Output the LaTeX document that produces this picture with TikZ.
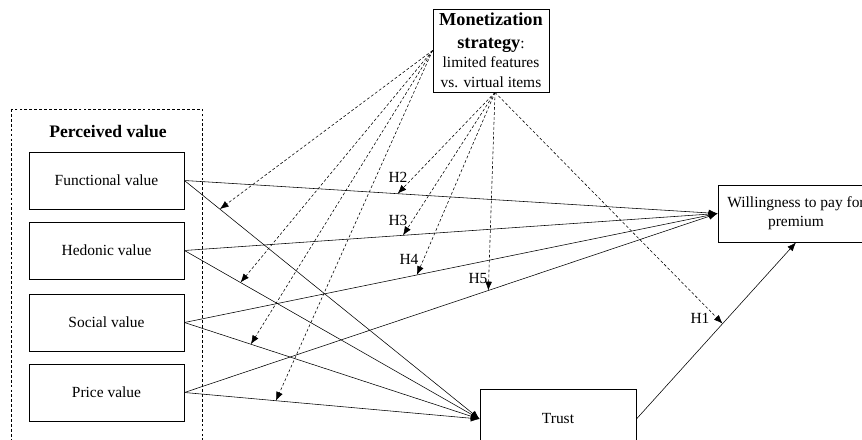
\documentclass[tikz,border=0pt]{standalone}
\usepackage{fontspec}
\setmainfont{Liberation Serif}
\usetikzlibrary{arrows.meta}
\begin{document}
\begin{tikzpicture}[x=0.025cm, y=-0.025cm,
        font=\fontsize{11}{13.5}\selectfont,
        valbox/.style={draw, line width=0.6pt, minimum width=3.875cm, minimum height=1.425cm, inner sep=0pt, align=center},
        link/.style={line width=0.4pt, -{Latex[length=2.2mm, width=1.7mm]}},
        moder/.style={link, dash pattern=on 2pt off 1.5pt},
        hlab/.style={inner sep=0pt}]
        \useasboundingbox (0,0) rectangle (862,440);
        \clip (0,0) rectangle (862,440);

        % Perceived value block
        \draw[line width=0.5pt, dash pattern=on 2pt off 1.5pt] (11,109) rectangle (202,470);
        \node (pvtitle) at (108,132) {\fontsize{12.5}{15}\selectfont\bfseries Perceived value};
        \node[valbox] (func)  at (106.5,180.5) {Functional value};
        \node[valbox] (hed)   at (106.5,250.5) {Hedonic value};
        \node[valbox] (soc)   at (106.5,322.5) {Social value};
        \node[valbox] (price) at (106.5,392.5) {Price value};

        % Moderator
        \node[valbox, minimum width=2.9cm, minimum height=2.075cm, font=\fontsize{11}{14}\selectfont] (mon) at (491,50.5)
            {{\fontsize{13}{15}\selectfont\bfseries Monetization}\\[2pt]
             {\fontsize{13}{15}\selectfont\bfseries strategy}:\\
             limited features\\vs. virtual items};

        % Outcomes
        \node[valbox, minimum width=3.9cm] (wtp) at (796,213.5) {Willingness to pay for\\premium};
        \node[valbox, minimum width=3.9cm, minimum height=1.5cm] (trust) at (558,419) {Trust};

        % Direct paths to willingness to pay
        \draw[link] (func.east)  -- (wtp.west) coordinate[pos=0.40] (h2);
        \draw[link] (hed.east)   -- (wtp.west) coordinate[pos=0.41] (h3);
        \draw[link] (soc.east)   -- (wtp.west) coordinate[pos=0.436] (h4);
        \draw[link] (price.east) -- (wtp.west) coordinate[pos=0.57] (h5);

        % Paths to trust
        \draw[link] (func.east)  -- (trust.west) coordinate[pos=0.12] (m1);
        \draw[link] (hed.east)   -- (trust.west) coordinate[pos=0.19] (m2);
        \draw[link] (soc.east)   -- (trust.west) coordinate[pos=0.225] (m3);
        \draw[link] (price.east) -- (trust.west) coordinate[pos=0.31] (m4);
        \draw[link] (trust.east) -- (wtp.south) coordinate[pos=0.54] (h1);

        % Moderating effects
        \foreach \t in {m1,m2,m3,m4}
            \draw[moder] (mon.west) -- (\t);
        \foreach \t in {h1,h2,h3,h4,h5}
            \draw[moder] ([xshift=0.1cm]mon.south) -- (\t);

        % Hypothesis labels
        \node[hlab] (lh1) at (700,318) {H1};
        \node[hlab] (lh2) at (398,177) {H2};
        \node[hlab] (lh3) at (398,220) {H3};
        \node[hlab] (lh4) at (409,259) {H4};
        \node[hlab] (lh5) at (478,279) {H5};
    \end{tikzpicture}
\end{document}
